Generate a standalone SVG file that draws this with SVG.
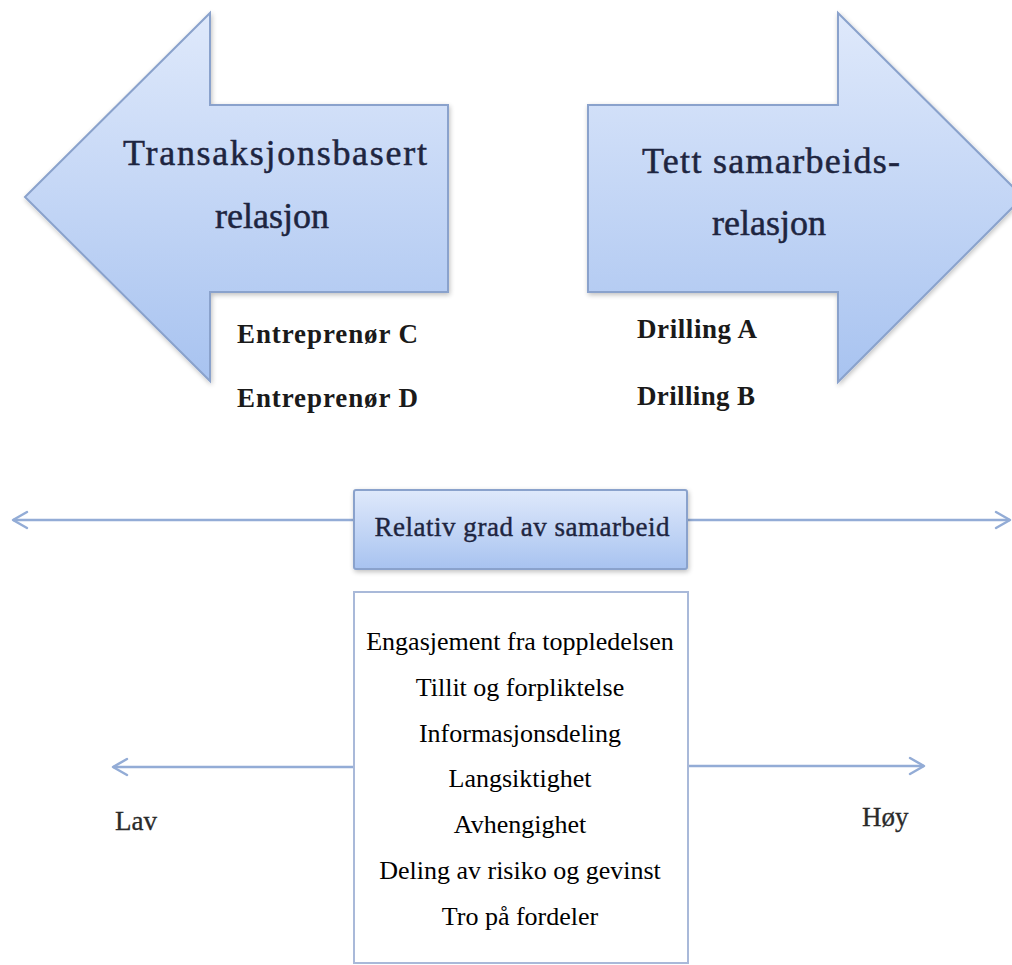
<svg xmlns="http://www.w3.org/2000/svg" width="1012" height="965" viewBox="0 0 1012 965">
  <style>
    .big { font-size: 36px; fill: #1e2540; stroke: #1e2540; stroke-width: 0.5; text-anchor: middle; }
    .tag { font-size: 27px; font-weight: bold; fill: #1a1a1a; }
    .item { font-size: 26px; fill: #000; text-anchor: middle; }
    .scale { font-size: 27px; fill: #2a2a2a; stroke: #2a2a2a; stroke-width: 0.3; }
    .axis { stroke: #93acd6; stroke-width: 2.5; fill: none; }
    .head { stroke: #93acd6; stroke-width: 2.5; fill: none; stroke-linecap: round; stroke-linejoin: round; }
    .shape { fill: url(#blueFill); stroke: #8aa2cc; stroke-width: 2; filter: url(#soft); }
  </style>
  <defs>
    <linearGradient id="blueFill" x1="0" y1="0" x2="0" y2="1">
      <stop offset="0" stop-color="#dfe9fb"/>
      <stop offset="1" stop-color="#a8c3f0"/>
    </linearGradient>
    <filter id="soft" x="-10%" y="-10%" width="120%" height="120%">
      <feGaussianBlur in="SourceAlpha" stdDeviation="2.5"/>
      <feOffset dx="1" dy="2" result="b"/>
      <feComponentTransfer><feFuncA type="linear" slope="0.25"/></feComponentTransfer>
      <feMerge><feMergeNode/><feMergeNode in="SourceGraphic"/></feMerge>
    </filter>
  </defs>

  <rect width="1012" height="965" fill="#ffffff"/>

  <!-- connectors: scale axes -->
  <g id="connectors">
    <line class="axis" x1="13" y1="520" x2="353" y2="520"/>
    <polyline class="head" points="27,512 13,520 27,528"/>
    <line class="axis" x1="687" y1="520" x2="1010" y2="520"/>
    <polyline class="head" points="996,512 1010,520 996,528"/>
    <line class="axis" x1="113" y1="767" x2="354" y2="767"/>
    <polyline class="head" points="127,759 113,767 127,775"/>
    <line class="axis" x1="688" y1="766" x2="924" y2="766"/>
    <polyline class="head" points="910,758 924,766 910,774"/>
  </g>

  <g font-family="Liberation Serif, Times New Roman, Tinos, Noto Serif, serif">
    <!-- left block arrow -->
    <g id="transaction">
      <path class="shape" d="M25,197 L210,13 L210,105 L448,105 L448,292 L210,292 L210,381 Z"/>
      <text class="big" x="275" y="165" textLength="304">Transaksjonsbasert</text>
      <text class="big" x="272" y="228">relasjon</text>
    </g>

    <!-- right block arrow -->
    <g id="partnership">
      <path class="shape" d="M588,105 L838,105 L838,13 L1023,197 L838,382 L838,292 L588,292 Z"/>
      <text class="big" x="771" y="173" textLength="258">Tett samarbeids-</text>
      <text class="big" x="769" y="235">relasjon</text>
    </g>

    <g id="contractors">
      <text class="tag" x="237" y="343" textLength="181">Entreprenør C</text>
      <text class="tag" x="237" y="407" textLength="181">Entreprenør D</text>
    </g>

    <g id="drilling">
      <text class="tag" x="637" y="338" textLength="120">Drilling A</text>
      <text class="tag" x="637" y="405" textLength="118">Drilling B</text>
    </g>

    <!-- axis title box -->
    <g id="degree">
      <rect class="shape" x="354" y="490" width="333" height="79" rx="2"/>
      <text class="big" x="522" y="536" style="font-size:27px; stroke-width:0.4" textLength="295">Relativ grad av samarbeid</text>
    </g>

    <!-- factor list -->
    <g id="factors">
      <rect x="354" y="592" width="334" height="371" fill="#ffffff" stroke="#a9b9d9" stroke-width="2"/>
      <text class="item" x="520" y="650">Engasjement fra toppledelsen</text>
      <text class="item" x="520" y="696">Tillit og forpliktelse</text>
      <text class="item" x="520" y="742">Informasjonsdeling</text>
      <text class="item" x="520" y="787">Langsiktighet</text>
      <text class="item" x="520" y="833">Avhengighet</text>
      <text class="item" x="520" y="879">Deling av risiko og gevinst</text>
      <text class="item" x="520" y="925">Tro på fordeler</text>
    </g>

    <g id="low">
      <text class="scale" x="115" y="830">Lav</text>
    </g>
    <g id="high">
      <text class="scale" x="862" y="826">Høy</text>
    </g>
  </g>
</svg>
